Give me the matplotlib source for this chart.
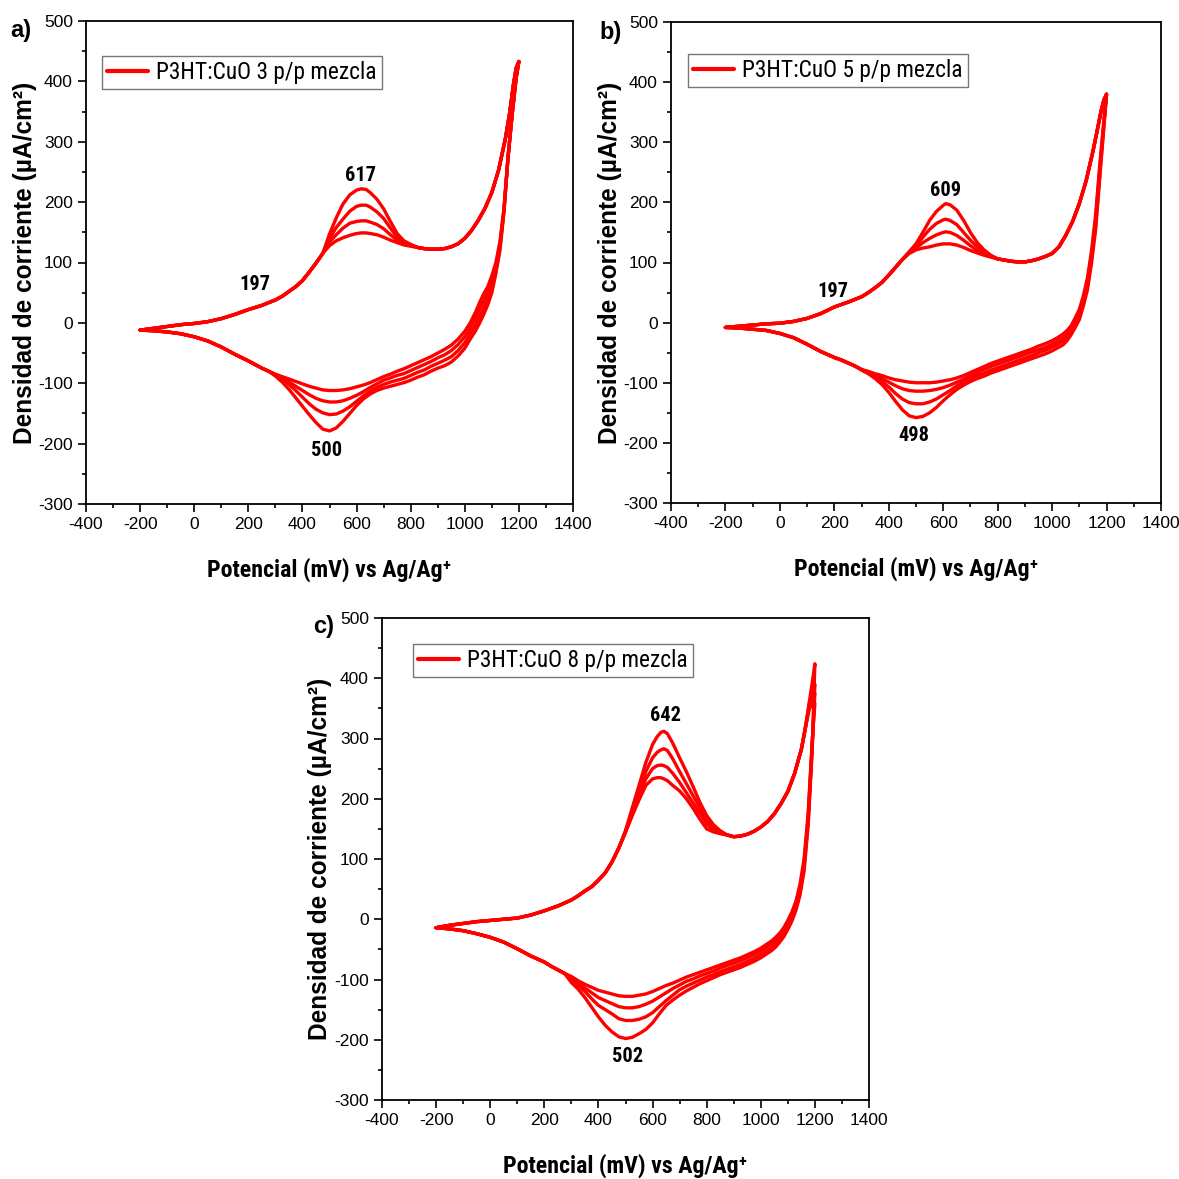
import matplotlib
matplotlib.use("Agg")
import matplotlib.pyplot as plt
from matplotlib.ticker import MultipleLocator
from matplotlib import font_manager

# ======================= data =======================
# shared potential grids (mV)
rev_E_right = [1200, 1190, 1175, 1160, 1145, 1130, 1115, 1100, 1085, 1070, 1055, 1040, 1020,
               1000, 975, 950, 925, 900, 875, 850, 825, 800, 775, 750, 725, 700]
rev_E_peak = [675, 650, 625, 600, 575, 550, 525, 500, 475, 450, 425, 400, 375, 350, 325, 300]
rev_E_tail = [275, 250, 225, 200, 150, 100, 50, 0, -50, -100, -150, -200]

# ---- Panel a: P3HT:CuO 3 p/p ----
a_fwd_E_low = [-200, -150, -100, -50, 0, 50, 100, 150, 200, 250, 300, 325, 350, 375, 400, 425, 450, 475]
a_fwd_I_low = [-12, -9, -6, -3, -1, 2, 7, 14, 22, 29, 38, 44, 52, 60, 70, 84, 99, 115]
a_fwd_E_mid = [500, 525, 550, 575, 600, 617, 635, 650, 675, 700, 725, 750, 775, 800]
a_fwd_c1 = [128, 136, 141, 145, 148, 149, 149, 148, 146, 142, 137, 133, 129, 127]
a_fwd_c2 = [134, 146, 157, 165, 168, 169, 169, 167, 163, 156, 146, 137, 131, 128]
a_fwd_c3 = [140, 158, 172, 185, 193, 195, 195, 192, 184, 173, 157, 142, 134, 129]
a_fwd_c4 = [147, 174, 197, 212, 220, 222, 221, 216, 205, 189, 168, 148, 136, 130]
a_fwd_E_high = [825, 850, 875, 900, 925, 950, 975, 1000, 1025, 1050, 1075, 1100, 1125, 1150, 1165, 1180, 1190, 1200]
a_fwd_I_high = [125, 123, 122, 122, 123, 126, 131, 140, 153, 170, 190, 216, 253, 305, 345, 395, 422, 433]

a_rev_c1_right = [433, 405, 345, 275, 190, 135, 100, 78, 60, 48, 34, 18, 0, -14, -27, -37, -44, -50, -56, -61, -66, -71, -76, -80, -85, -89]
a_rev_c2_right = [433, 406, 345, 275, 188, 130, 93, 70, 50, 37, 23, 8, -9, -23, -36, -46, -53, -58, -64, -69, -74, -79, -84, -87, -91, -95]
a_rev_c3_right = [433, 407, 345, 275, 186, 125, 87, 60, 40, 25, 11, -3, -18, -33, -46, -56, -62, -67, -72, -78, -82, -87, -92, -95, -98, -102]
a_rev_c4_right = [433, 408, 345, 275, 185, 120, 82, 50, 30, 14, 0, -13, -27, -42, -55, -65, -71, -75, -80, -86, -90, -95, -99, -102, -105, -108]
a_rev_c1_peak = [-94, -99, -103, -106, -109, -111, -112, -112, -111, -108, -105, -101, -97, -93, -89, -85]
a_rev_c2_peak = [-101, -107, -114, -120, -125, -129, -131, -131, -129, -125, -119, -112, -105, -98, -92, -86]
a_rev_c3_peak = [-107, -113, -121, -130, -139, -146, -151, -152, -149, -143, -134, -123, -112, -102, -94, -87]
a_rev_c4_peak = [-112, -118, -126, -137, -150, -163, -174, -179, -176, -165, -152, -138, -124, -110, -98, -88]
a_rev_tail = [-80, -75, -69, -63, -52, -40, -30, -23, -18, -15, -13, -12]

# ---- Panel b: P3HT:CuO 5 p/p ----
b_fwd_E_low = [-200, -150, -100, -50, 0, 50, 100, 150, 200, 250, 300, 325, 350, 375, 400, 425, 450]
b_fwd_I_low = [-8, -6, -4, -2, -1, 2, 7, 15, 26, 34, 43, 50, 58, 67, 79, 92, 105]
b_fwd_E_mid = [475, 500, 525, 550, 575, 600, 609, 625, 650, 675, 700, 725, 750, 775]
b_fwd_c1 = [115, 121, 124, 126, 129, 131, 131, 131, 129, 125, 120, 116, 112, 109]
b_fwd_c2 = [116, 124, 133, 140, 146, 150, 151, 150, 145, 137, 128, 120, 115, 110]
b_fwd_c3 = [117, 127, 142, 155, 165, 171, 172, 170, 163, 150, 137, 126, 118, 111]
b_fwd_c4 = [118, 131, 150, 170, 185, 195, 198, 196, 187, 170, 150, 133, 121, 112]
b_fwd_E_high = [800, 825, 850, 875, 900, 925, 950, 975, 1000, 1025, 1050, 1075, 1100, 1125, 1150, 1165, 1180, 1190, 1200]
b_fwd_I_high = [106, 104, 102, 101, 101, 103, 106, 110, 115, 126, 145, 168, 198, 236, 285, 318, 352, 370, 380]

b_rev_c1_right = [380, 335, 262, 180, 120, 75, 45, 22, 8, -5, -13, -19, -25, -30, -35, -39, -44, -48, -52, -56, -60, -64, -68, -73, -78, -83]
b_rev_c2_right = [380, 332, 255, 172, 113, 68, 39, 16, 3, -10, -19, -25, -31, -36, -41, -45, -49, -53, -57, -61, -65, -69, -73, -78, -83, -88]
b_rev_c3_right = [380, 328, 247, 163, 107, 62, 34, 11, -3, -15, -24, -31, -36, -41, -46, -50, -55, -59, -63, -67, -71, -75, -79, -84, -88, -93]
b_rev_c4_right = [380, 325, 240, 155, 100, 55, 28, 5, -8, -20, -30, -37, -42, -47, -52, -56, -60, -64, -68, -72, -76, -80, -84, -89, -93, -98]
b_rev_c1_peak = [-88, -92, -95, -97, -99, -100, -100, -100, -99, -97, -95, -92, -88, -85, -81, -78]
b_rev_c2_peak = [-94, -99, -104, -108, -111, -113, -114, -114, -113, -110, -105, -99, -93, -88, -83, -78]
b_rev_c3_peak = [-99, -105, -113, -120, -127, -132, -135, -135, -133, -127, -118, -107, -98, -90, -84, -78]
b_rev_c4_peak = [-104, -111, -120, -130, -141, -150, -156, -158, -155, -145, -131, -116, -103, -93, -85, -79]
b_rev_tail = [-72, -67, -62, -58, -48, -36, -25, -18, -13, -11, -9, -8]

# ---- Panel c: P3HT:CuO 8 p/p ----
c_fwd_E_low = [-200, -150, -100, -50, 0, 50, 100, 150, 200, 250, 300, 325, 350, 375, 400, 425, 450, 475]
c_fwd_I_low = [-14, -10, -7, -4, -2, 0, 2, 7, 14, 22, 32, 39, 47, 54, 65, 77, 95, 118]
c_fwd_E_mid = [500, 525, 550, 575, 600, 617, 630, 642, 655, 675, 700, 725, 750, 775, 800, 825, 850]
c_fwd_c1 = [144, 172, 198, 222, 233, 235, 235, 233, 230, 222, 213, 200, 184, 166, 150, 145, 142]
c_fwd_c2 = [145, 176, 205, 233, 250, 255, 256, 255, 252, 242, 227, 210, 193, 176, 158, 148, 143]
c_fwd_c3 = [146, 180, 212, 245, 268, 277, 281, 283, 280, 266, 245, 225, 205, 185, 165, 152, 144]
c_fwd_c4 = [147, 185, 222, 260, 290, 303, 310, 312, 308, 292, 268, 245, 220, 194, 172, 157, 147]
c_fwd_E_high = [875, 900, 925, 950, 975, 1000, 1025, 1050, 1075, 1100, 1125, 1150, 1165]
c_fwd_I_high = [140, 137, 138, 141, 146, 153, 162, 175, 192, 212, 242, 282, 318]
c_fwd_E_top = [1180, 1190, 1200]
c_fwd_top_c1 = [350, 356, 358]
c_fwd_top_c2 = [355, 368, 375]
c_fwd_top_c3 = [360, 378, 390]
c_fwd_top_c4 = [362, 392, 424]

c_rev_c1_right = [358, 295, 175, 100, 58, 30, 12, -2, -14, -23, -30, -36, -42, -48, -54, -59, -64, -68, -72, -76, -80, -84, -88, -92, -96, -101]
c_rev_c2_right = [375, 290, 168, 93, 52, 25, 7, -7, -19, -28, -35, -41, -47, -53, -59, -64, -69, -73, -77, -81, -86, -90, -94, -99, -103, -109]
c_rev_c3_right = [390, 285, 162, 87, 46, 20, 2, -12, -24, -33, -41, -47, -53, -59, -65, -70, -75, -79, -83, -87, -92, -96, -101, -106, -111, -117]
c_rev_c4_right = [424, 280, 155, 80, 40, 15, -3, -17, -29, -38, -46, -52, -58, -64, -70, -75, -80, -84, -88, -92, -97, -102, -107, -113, -119, -126]
c_rev_c1_peak = [-106, -110, -115, -120, -124, -126, -128, -128, -127, -124, -121, -118, -113, -108, -102, -95]
c_rev_c2_peak = [-115, -122, -129, -136, -141, -145, -147, -147, -145, -140, -135, -130, -122, -114, -106, -98]
c_rev_c3_peak = [-126, -135, -145, -155, -162, -166, -168, -168, -165, -157, -150, -143, -132, -120, -110, -101]
c_rev_c4_peak = [-134, -143, -157, -172, -183, -190, -196, -198, -195, -187, -176, -162, -146, -130, -116, -105]
c_rev_tail = [-90, -84, -78, -71, -61, -49, -38, -30, -24, -19, -16, -14]

legend_labels = ["P3HT:CuO 3 p/p mezcla", "P3HT:CuO 5 p/p mezcla", "P3HT:CuO 8 p/p mezcla"]
panel_tags = ["a)", "b)", "c)"]
a_notes = [("617", 613, 244), ("197", 226, 63), ("500", 490, -212)]
b_notes = [("609", 607, 219), ("197", 195, 51), ("498", 492, -188)]
c_notes = [("642", 649, 339), ("502", 507, -228)]
xlabel = "Potencial (mV) vs Ag/Ag\u207a"
ylabel = "Densidad de corriente (\u00b5A/cm\u00b2)"

# ======================= fonts =======================
fm = font_manager.fontManager
names = {f.name for f in fm.ttflist}
REG = "Liberation Sans"
COND, COND_STRETCH = None, "normal"
for nm in ["Liberation Sans Narrow", "Arial Narrow", "Roboto Condensed", "Open Sans Condensed",
           "Noto Sans Condensed", "DejaVu Sans Condensed"]:
    if nm in names:
        COND = nm
        break
if COND is None:
    for fam in ["Liberation Sans", "Roboto", "Noto Sans", "Open Sans", "DejaVu Sans", "Lato", "Inter"]:
        if any(f.name == fam and str(f.stretch) in ("condensed", "semi-condensed", "extra-condensed")
               for f in fm.ttflist):
            COND, COND_STRETCH = fam, "condensed"
            break
if COND is None:
    COND = REG

plt.rcParams["font.family"] = [REG, "DejaVu Sans"]
plt.rcParams["axes.unicode_minus"] = False

W = 1179.0
fig = plt.figure(figsize=(11.79, 11.79), dpi=100)
renderer = fig.canvas.get_renderer()


def fx(px):
    return px / W


def fy(py):
    return 1 - py / W


def fit_size(s, target_px, base, **kw):
    t = fig.text(0, 0, s, fontsize=base, **kw)
    w = t.get_window_extent(renderer=renderer).width
    t.remove()
    return min(base * 1.1, base * target_px / w)


cond_kw = dict(family=[COND, "DejaVu Sans"], fontstretch=COND_STRETCH)
LEG_SIZE = fit_size(legend_labels[0], 221, 18, **cond_kw)
XL_SIZE = fit_size(xlabel, 245, 18, fontweight="bold", **cond_kw)
NOTE_SIZE = fit_size("617", 31, 15, fontweight="bold", **cond_kw)
YL_SIZE = fit_size(ylabel, 363, 17.5, fontweight="bold", family=[REG, "DejaVu Sans"])


def cycles_for(fwd_E, fwd_Is, rev_E, rev_Is):
    return [(fwd_E + rev_E, fi + ri) for fi, ri in zip(fwd_Is, rev_Is)]


rev_E = rev_E_right + rev_E_peak + rev_E_tail
a_cyc = cycles_for(
    a_fwd_E_low + a_fwd_E_mid + a_fwd_E_high,
    [a_fwd_I_low + m + a_fwd_I_high for m in (a_fwd_c1, a_fwd_c2, a_fwd_c3, a_fwd_c4)],
    rev_E,
    [r + p + a_rev_tail for r, p in ((a_rev_c1_right, a_rev_c1_peak), (a_rev_c2_right, a_rev_c2_peak),
                                     (a_rev_c3_right, a_rev_c3_peak), (a_rev_c4_right, a_rev_c4_peak))])
b_cyc = cycles_for(
    b_fwd_E_low + b_fwd_E_mid + b_fwd_E_high,
    [b_fwd_I_low + m + b_fwd_I_high for m in (b_fwd_c1, b_fwd_c2, b_fwd_c3, b_fwd_c4)],
    rev_E,
    [r + p + b_rev_tail for r, p in ((b_rev_c1_right, b_rev_c1_peak), (b_rev_c2_right, b_rev_c2_peak),
                                     (b_rev_c3_right, b_rev_c3_peak), (b_rev_c4_right, b_rev_c4_peak))])
c_cyc = cycles_for(
    c_fwd_E_low + c_fwd_E_mid + c_fwd_E_high + c_fwd_E_top,
    [c_fwd_I_low + m + c_fwd_I_high + t for m, t in ((c_fwd_c1, c_fwd_top_c1), (c_fwd_c2, c_fwd_top_c2),
                                                     (c_fwd_c3, c_fwd_top_c3), (c_fwd_c4, c_fwd_top_c4))],
    rev_E,
    [r + p + c_rev_tail for r, p in ((c_rev_c1_right, c_rev_c1_peak), (c_rev_c2_right, c_rev_c2_peak),
                                     (c_rev_c3_right, c_rev_c3_peak), (c_rev_c4_right, c_rev_c4_peak))])

panels = [
    dict(box=(86, 21, 573, 504), tag_xy=(21, 30), leg=(102, 56), ylab_x=25, cycles=a_cyc,
         notes=a_notes, label=legend_labels[0], tag=panel_tags[0]),
    dict(box=(671, 22, 1161, 503), tag_xy=(611, 33), leg=(688, 54), ylab_x=610, cycles=b_cyc,
         notes=b_notes, label=legend_labels[1], tag=panel_tags[1]),
    dict(box=(382, 618, 869, 1100), tag_xy=(324, 626), leg=(413, 644), ylab_x=320, cycles=c_cyc,
         notes=c_notes, label=legend_labels[2], tag=panel_tags[2]),
]

for p in panels:
    l, t, r, b = p["box"]
    ax = fig.add_axes([fx(l), fy(b), (r - l) / W, (b - t) / W])
    for k, (E, I) in enumerate(p["cycles"]):
        ax.plot(E, I, color="#ff0000", lw=2.4, solid_joinstyle="round",
                solid_capstyle="round", label=p["label"] if k == 0 else None)
    ax.set_xlim(-400, 1400)
    ax.set_ylim(-300, 500)
    ax.xaxis.set_major_locator(MultipleLocator(200))
    ax.xaxis.set_minor_locator(MultipleLocator(100))
    ax.yaxis.set_major_locator(MultipleLocator(100))
    ax.yaxis.set_minor_locator(MultipleLocator(50))
    ax.tick_params(which="both", direction="out", top=False, right=False, width=1.2, colors="black")
    ax.tick_params(which="major", length=5.5, labelsize=12.5, pad=4)
    ax.tick_params(which="minor", length=3)
    for s in ax.spines.values():
        s.set_linewidth(1.3)
    for txt, xv, yv in p["notes"]:
        ax.text(xv, yv, txt, ha="center", va="center", fontsize=NOTE_SIZE, fontweight="bold", **cond_kw)
    ax.text(0.5, -66.0 / (b - t), xlabel, transform=ax.transAxes, ha="center", va="center",
            fontsize=XL_SIZE, fontweight="bold", **cond_kw)
    ax.text((p["ylab_x"] - l) / (r - l), 0.5, ylabel, transform=ax.transAxes, ha="center",
            va="center", rotation=90, fontsize=YL_SIZE, fontweight="bold", family=[REG, "DejaVu Sans"])
    leg = ax.legend(loc="upper left", bbox_to_anchor=(fx(p["leg"][0]), fy(p["leg"][1])),
                    bbox_transform=fig.transFigure, borderaxespad=0, frameon=True,
                    fancybox=False, handlelength=1.75, handletextpad=0.35, borderpad=0.22,
                    prop=font_manager.FontProperties(family=[COND, "DejaVu Sans"],
                                                     stretch=COND_STRETCH, size=LEG_SIZE))
    leg.get_frame().set_edgecolor("#555555")
    leg.get_frame().set_linewidth(1.0)
    for ln in leg.get_lines():
        ln.set_linewidth(3)
    tx, ty = p["tag_xy"]
    fig.text(fx(tx), fy(ty), p["tag"], ha="center", va="center", fontsize=17,
             fontweight="bold", family=[REG, "DejaVu Sans"])

fig.savefig("out.png", dpi=100, facecolor="white")
